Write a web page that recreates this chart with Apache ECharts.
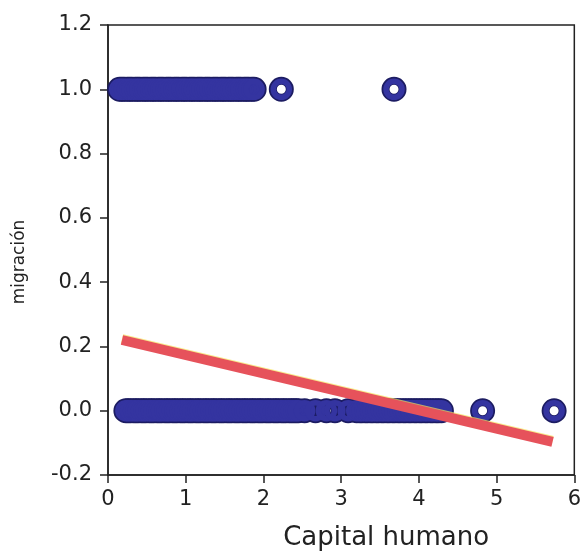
<!DOCTYPE html>
<html>
<head>
<meta charset="utf-8">
<script src="https://cdn.jsdelivr.net/npm/echarts@6/dist/echarts.min.js"></script>
<style>
html,body{margin:0;padding:0;background:#fff;}
#chart{width:584px;height:560px;}
</style>
</head>
<body>
<div id="chart"></div>
<script>
// Capital humano values of observations with migración = 1
var migrantX = [0.15,0.18,0.21,0.25,0.28,0.31,0.35,0.38,0.41,0.45,0.48,0.51,0.55,0.58,0.61,0.65,0.68,0.71,0.75,0.78,0.81,0.85,0.88,0.91,0.95,0.98,1.01,1.05,1.08,1.11,1.15,1.18,1.21,1.25,1.28,1.31,1.35,1.38,1.41,1.45,1.48,1.51,1.55,1.58,1.61,1.65,1.68,1.71,1.75,1.78,1.81,1.85,1.88,2.23,3.68];
// Capital humano values of observations with migración = 0
var stayX = [0.23,0.26,0.29,0.33,0.36,0.39,0.43,0.46,0.49,0.53,0.56,0.59,0.63,0.66,0.69,0.73,0.76,0.79,0.83,0.86,0.89,0.93,0.96,0.99,1.03,1.06,1.09,1.13,1.16,1.19,1.23,1.26,1.29,1.33,1.36,1.39,1.43,1.46,1.49,1.53,1.56,1.59,1.63,1.66,1.69,1.73,1.76,1.79,1.83,1.86,1.89,1.93,1.96,1.99,2.03,2.06,2.09,2.13,2.16,2.19,2.23,2.26,2.29,2.33,2.36,2.39,2.42,2.45,2.53,2.67,2.81,2.92,3.09,3.2,3.24,3.27,3.31,3.34,3.38,3.41,3.45,3.48,3.52,3.55,3.59,3.62,3.66,3.69,3.73,3.76,3.8,3.83,3.87,3.9,3.94,3.97,4.01,4.04,4.08,4.11,4.15,4.18,4.22,4.25,4.29,4.82,5.74];
// fitted linear probability line (endpoints)
var fitX = [0.18, 5.72];
var fitY = [0.22, -0.097];
var yTicks = ['-0.2','0.0','0.2','0.4','0.6','0.8','1.0','1.2'];
var xTicks = ['0','1','2','3','4','5','6'];

var chart = echarts.init(document.getElementById('chart'), null, {renderer:'canvas'});
var font = 'DejaVu Sans';
var pts = migrantX.map(function(x){return [x,1];}).concat(stayX.map(function(x){return [x,0];}));
chart.setOption({
  backgroundColor:'#ffffff',
  animation:false,
  grid:{left:108,right:7,top:25,bottom:85,show:true,borderColor:'#222',borderWidth:1.5,backgroundColor:'transparent'},
  xAxis:{type:'value',min:0,max:6,interval:1,
    name:'Capital humano',nameLocation:'middle',nameGap:50,
    nameTextStyle:{fontFamily:font,fontSize:26,color:'#222',padding:[0,0,0,90]},
    axisLine:{show:true,onZero:false,lineStyle:{color:'#222',width:1.5}},
    axisTick:{show:true,length:8,lineStyle:{color:'#222',width:1.5}},
    axisLabel:{fontFamily:font,fontSize:21,color:'#222',margin:14,formatter:function(v){return xTicks[Math.round(v)];}},
    splitLine:{show:false}},
  yAxis:{type:'value',min:-0.2,max:1.2,interval:0.2,
    name:'migración',nameLocation:'middle',nameGap:80,nameRotate:90,
    nameTextStyle:{fontFamily:font,fontSize:17,color:'#222',padding:[0,24,0,0]},
    axisLine:{show:true,onZero:false,lineStyle:{color:'#222',width:1.5}},
    axisTick:{show:true,length:8,lineStyle:{color:'#222',width:1.5}},
    axisLabel:{fontFamily:font,fontSize:21,color:'#222',margin:16,formatter:function(v){return yTicks[Math.round((v+0.2)/0.2)];}},
    splitLine:{show:false}},
  series:[
    {type:'scatter',data:pts,symbol:'circle',symbolSize:17,z:2,silent:true,
      itemStyle:{color:'rgba(0,0,0,0)',borderColor:'#1c1c62',borderWidth:8,opacity:1}},
    {type:'scatter',data:pts,symbol:'circle',symbolSize:16,z:2,
      itemStyle:{color:'rgba(0,0,0,0)',borderColor:'#3434a0',borderWidth:5.5,opacity:1}},
    {type:'line',data:[[fitX[0],fitY[0]],[fitX[1],fitY[1]]],symbol:'none',z:3,
      lineStyle:{color:'#e6525b',width:10,cap:'butt',shadowColor:'rgba(245,225,90,0.7)',shadowBlur:0,shadowOffsetY:-1}}
  ]
});
</script>
</body>
</html>
